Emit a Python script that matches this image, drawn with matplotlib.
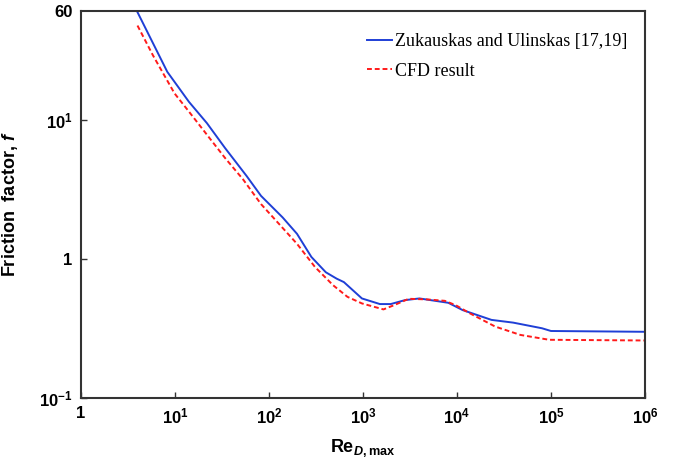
import matplotlib
matplotlib.use("Agg")
import matplotlib.pyplot as plt
from matplotlib.ticker import FixedLocator, FixedFormatter, NullLocator

plt.rcParams['font.family'] = ['Liberation Sans', 'DejaVu Sans']
plt.rcParams['mathtext.fontset'] = 'custom'
plt.rcParams['mathtext.rm'] = 'Liberation Sans:bold'
plt.rcParams['mathtext.bf'] = 'Liberation Sans:bold'
plt.rcParams['mathtext.it'] = 'Liberation Sans:italic:bold'

# Zukauskas and Ulinskas correlation
re_zu = [4.0, 8.3, 10.8, 14.1, 21.9, 34.1, 57.9, 82.4, 140, 199, 283, 403, 525,
         627, 975, 1514, 1973, 2806, 3990, 8090, 11500, 23300, 39600, 80200,
         1e5, 1e6]
f_zu = [59, 22.0, 17.2, 13.4, 9.42, 6.25, 3.93, 2.83, 1.98, 1.51, 1.03, 0.80,
        0.72, 0.68, 0.519, 0.473, 0.473, 0.505, 0.519, 0.483, 0.428, 0.364,
        0.348, 0.317, 0.303, 0.299]

# CFD result
re_cfd = [4.0, 5.84, 9.91, 14.1, 21.9, 34.1, 53.0, 82.4, 128, 199, 309, 481,
          684, 975, 1653, 2153, 3068, 4770, 7410, 9660, 13700, 25500, 47200,
          95700, 1e6]
f_cfd = [47.3, 28.9, 15.4, 11.4, 7.78, 5.30, 3.72, 2.47, 1.78, 1.28, 0.873,
         0.646, 0.533, 0.478, 0.433, 0.465, 0.516, 0.511, 0.499, 0.465, 0.406,
         0.326, 0.284, 0.262, 0.259]

x_ticks = [1, 1e1, 1e2, 1e3, 1e4, 1e5, 1e6]
x_labels = ['1', '$10^{1}$', '$10^{2}$', '$10^{3}$', '$10^{4}$', '$10^{5}$', '$10^{6}$']
y_ticks = [0.1, 1, 10, 60]
y_labels = ['$10^{-1}$', '1', '$10^{1}$', '60']

fig = plt.figure(figsize=(6.74, 4.65), dpi=100)
ax = fig.add_axes([0.120, 0.144, 0.837, 0.832])

ax.plot(re_zu, f_zu, color='#1f3fd6', lw=1.4, label='Zukauskas and Ulinskas [17,19]')
ax.plot(re_cfd, f_cfd, color='#ff1a1a', lw=1.4, ls=(0, (2.5, 1.5)), label='CFD result')

ax.set_xscale('log')
ax.set_yscale('log')
ax.set_xlim(1, 1e6)
ax.set_ylim(0.1, 60)

ax.xaxis.set_major_locator(FixedLocator(x_ticks))
ax.xaxis.set_major_formatter(FixedFormatter(x_labels))
ax.xaxis.set_minor_locator(NullLocator())
ax.yaxis.set_major_locator(FixedLocator(y_ticks))
ax.yaxis.set_major_formatter(FixedFormatter(y_labels))
ax.yaxis.set_minor_locator(NullLocator())

ax.tick_params(direction='in', length=4, width=1, color='#333333',
               labelsize=12, pad=6)
for lab in ax.get_xticklabels() + ax.get_yticklabels():
    lab.set_fontweight('bold')
ax.get_yticklines()[-2].set_visible(False)

for sp in ax.spines.values():
    sp.set_linewidth(1.5)
    sp.set_color('#333333')

ax.set_xlabel(r'$\mathrm{Re}_{\mathit{D}\mathrm{,max}}$', fontsize=13, labelpad=8)
ax.set_ylabel(r'Friction  factor, $\mathit{f}$', fontsize=13,
              fontweight='bold', labelpad=14)

ax.legend(loc='upper right', bbox_to_anchor=(1.0, 0.99), frameon=False,
          handlelength=1.4, handletextpad=0.15, labelspacing=0.7,
          borderaxespad=0.6, prop={'family': 'Liberation Serif', 'size': 13})

fig.savefig('out.png', dpi=100)
